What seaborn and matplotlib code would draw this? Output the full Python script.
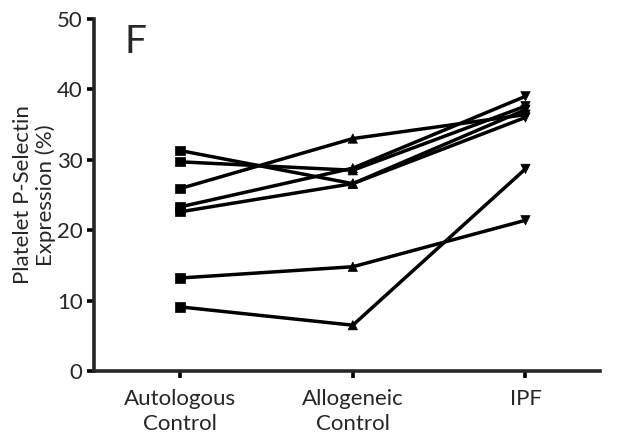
import pandas as pd
import matplotlib
matplotlib.use("Agg")
import matplotlib.pyplot as plt
import seaborn as sns

# --- Data ---
groups = ["Autologous\nControl", "Allogeneic\nControl", "IPF"]
subjects = ["A", "B", "C", "D", "E", "F", "G"]
autologous = [31.3, 29.7, 25.9, 23.3, 22.6, 13.2, 9.1]
allogeneic = [26.6, 28.5, 33.0, 28.8, 26.6, 14.8, 6.5]
ipf = [37.1, 37.6, 36.4, 39.0, 36.0, 21.4, 28.7]
y_ticks = [0, 10, 20, 30, 40, 50]

# --- Long format table ---
rows = []
for i, s in enumerate(subjects):
    for g, vals in zip(groups, [autologous, allogeneic, ipf]):
        rows.append({"subject": s, "group": g, "value": vals[i]})
df = pd.DataFrame(rows)
df["pos"] = df["group"].map({g: k for k, g in enumerate(groups)})

sns.set_style("ticks")
plt.rcParams["font.family"] = ["Lato", "DejaVu Sans"]

fig = plt.figure(figsize=(6.17, 4.38), dpi=100)
ax = fig.add_axes([0.152, 0.153, 0.82, 0.804])

sns.lineplot(data=df, x="pos", y="value", units="subject", estimator=None,
             color="black", linewidth=2.5, ax=ax, legend=False)
sns.scatterplot(data=df, x="pos", y="value", style="group",
                markers={groups[0]: "s", groups[1]: "^", groups[2]: "v"},
                color="black", s=45, edgecolor="black", linewidth=0.5,
                ax=ax, legend=False, zorder=3)

ax.set_xlim(-0.5, 2.43)
ax.set_ylim(0, 50)
ax.set_xticks(range(len(groups)))
ax.set_xticklabels(groups, fontsize=16, linespacing=1.3)
ax.set_yticks(y_ticks)
ax.set_yticklabels([str(t) for t in y_ticks], fontsize=16)
ax.set_xlabel("")
ax.set_ylabel("Platelet P-Selectin\nExpression (%)", fontsize=16, labelpad=1,
              linespacing=1.1)

for side in ["top", "right"]:
    ax.spines[side].set_visible(False)
for side in ["left", "bottom"]:
    ax.spines[side].set_linewidth(2.6)
ax.tick_params(axis="both", width=2.6, length=5, color="black", pad=3)
ax.tick_params(axis="x", length=5, pad=8)

ax.text(0.06, 0.985, "F", transform=ax.transAxes, fontsize=28,
        va="top", ha="left")

plt.savefig("out.png", dpi=100)
plt.close(fig)
